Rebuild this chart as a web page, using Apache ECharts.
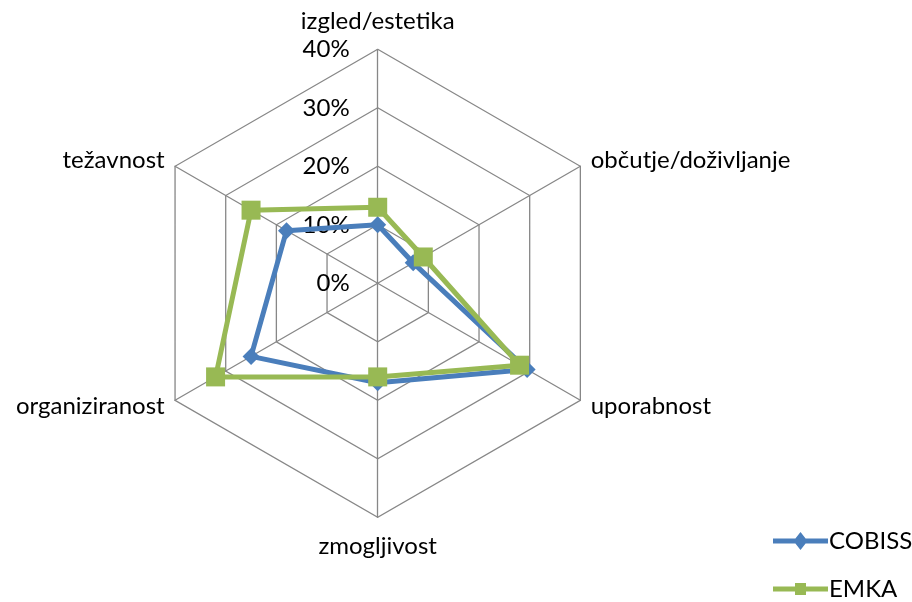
<!DOCTYPE html>
<html>
<head>
<meta charset="utf-8">
<script src="https://cdn.jsdelivr.net/npm/echarts@6/dist/echarts.min.js"></script>
<style>
html,body{margin:0;padding:0;background:#fff;}
#chart{width:912px;height:602px;}
</style>
</head>
<body>
<div id="chart"></div>
<script>
// Categories in clockwise order starting from the top
const categories = ['izgled/estetika', 'občutje/doživljanje', 'uporabnost', 'zmogljivost', 'organiziranost', 'težavnost'];
const cobiss = [10, 7, 29.5, 17, 25, 18];
const emka = [13, 9, 28, 16, 32, 25];
const tickLabels = ['0%', '10%', '20%', '30%', '40%'];
const axisMax = 40;

const FONT = 'Lato';
const BLUE = '#4A7EBB';
const GREEN = '#98B954';
const chart = echarts.init(document.getElementById('chart'), null, {renderer: 'canvas'});

// ECharts places radar indicators counter-clockwise; reorder so the picture runs clockwise
const order = categories.map((c, i) => (categories.length - i) % categories.length);
const reorder = arr => order.map(i => arr[i]);

const indicator = reorder(categories).map((name, i) => {
  const ind = {name: name, min: 0, max: axisMax};
  if (i === 0) {
    ind.axisLabel = {
      show: true, color: '#000', fontSize: 24, fontFamily: FONT, margin: 28,
      formatter: v => tickLabels[Math.round(v / 10)]
    };
  }
  return ind;
});

// legend icons: a thick line with the series marker in the middle
const diamondIcon = 'path://M0,6.5 L22.4,6.5 L27.5,0 L32.6,6.5 L55,6.5 L55,11.5 L32.6,11.5 L27.5,18 L22.4,11.5 L0,11.5 Z';
const squareIcon = 'path://M0,6.5 L22,6.5 L22,3 L33,3 L33,6.5 L55,6.5 L55,11.5 L33,11.5 L33,15 L22,15 L22,11.5 L0,11.5 Z';

chart.setOption({
  animation: false,
  backgroundColor: '#fff',
  legend: {
    orient: 'vertical',
    left: 773,
    top: 529,
    width: 139,
    height: 73,
    padding: 0,
    itemWidth: 55,
    itemHeight: 18,
    itemGap: 24,
    textStyle: {color: '#000', fontSize: 24, fontFamily: FONT, lineHeight: 24, padding: [0, 0, 0, -4]},
    data: [
      {name: 'COBISS', icon: diamondIcon, itemStyle: {color: BLUE}},
      {name: 'EMKA', icon: squareIcon, itemStyle: {color: GREEN}}
    ]
  },
  radar: {
    center: [377.7, 283.3],
    radius: 234,
    startAngle: 90,
    shape: 'polygon',
    splitNumber: 4,
    nameGap: 12,
    axisName: {color: '#000', fontSize: 24, fontFamily: FONT, lineHeight: 33},
    splitLine: {lineStyle: {color: '#878787', width: 1.3}},
    splitArea: {show: false},
    axisLine: {lineStyle: {color: '#878787', width: 1.3}},
    axisTick: {show: false},
    axisLabel: {show: false},
    indicator: indicator
  },
  series: [{
    type: 'radar',
    data: [
      {
        name: 'COBISS', value: reorder(cobiss),
        symbol: 'diamond', symbolSize: 17,
        lineStyle: {color: BLUE, width: 5},
        itemStyle: {color: BLUE}
      },
      {
        name: 'EMKA', value: reorder(emka),
        symbol: 'rect', symbolSize: 19,
        lineStyle: {color: GREEN, width: 5},
        itemStyle: {color: GREEN}
      }
    ]
  }]
});
</script>
</body>
</html>
